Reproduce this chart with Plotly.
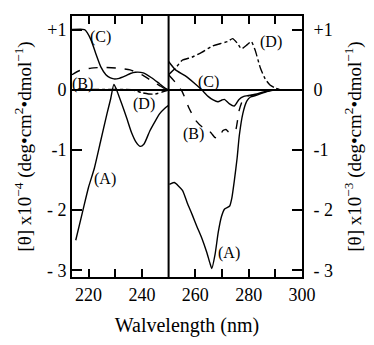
import plotly.graph_objects as go

# ---- data (left panel: [θ] x10^-4 ; right panel: [θ] x10^-3) ----
wl_A_left = [215.2, 217.8, 220.0, 222.2, 224.5, 226.9, 228.3, 229.5, 230.5, 231.5, 232.5,
             234.3, 236.1, 237.8, 239.4, 240.8, 243.0, 245.0, 246.6, 248.5, 250.0]
A_left = [-2.50, -2.02, -1.62, -1.30, -0.86, -0.40, -0.15, 0.09, 0.00, -0.12, -0.24,
          -0.47, -0.71, -0.87, -0.94, -0.90, -0.68, -0.52, -0.40, -0.31, -0.26]

wl_B_left = [213.8, 216.7, 221.0, 225.9, 230.7, 235.6, 239.9, 243.6, 246.6, 249.0, 250.0]
B_left = [0.25, 0.32, 0.36, 0.37, 0.36, 0.33, 0.25, 0.15, 0.07, 0.01, 0.0]

wl_C_left = [213.8, 218.5, 219.5, 221.0, 222.8, 224.6, 226.5, 228.0, 229.5, 231.5, 233.8,
             235.7, 237.5, 240.5, 243.6, 246.6, 249.0, 250.0]
C_left = [1.0, 1.0, 0.95, 0.82, 0.59, 0.38, 0.25, 0.20, 0.18, 0.19, 0.23,
          0.27, 0.29, 0.28, 0.20, 0.10, 0.02, 0.0]

wl_D_left = [213.8, 236.0, 238.0, 240.0, 242.5, 245.0, 247.5, 250.0]
D_left = [0.0, 0.0, -0.02, -0.05, -0.07, -0.07, -0.04, 0.0]

wl_A_right = [250.3, 252.1, 255.2, 257.0, 258.8, 260.6, 262.5, 264.3, 265.5, 266.2, 267.4,
              268.6, 269.8, 271.0, 272.9, 273.7, 274.7, 275.7, 276.5, 277.8, 279.3, 280.7,
              283.1, 286.8, 290.0, 300.0]
A_right = [-1.57, -1.54, -1.67, -1.88, -2.07, -2.27, -2.47, -2.70, -2.88, -2.97, -2.74,
           -2.37, -2.11, -1.98, -1.93, -1.80, -1.49, -1.13, -0.76, -0.40, -0.19, -0.12,
           -0.09, -0.03, 0.0, 0.0]

wl_B_right = [250.0, 252.6, 255.1, 257.5, 260.0, 262.4, 264.8, 266.0, 267.3, 268.5, 269.5,
              270.3, 271.5, 272.5, 273.4, 274.3, 275.2, 275.8, 276.4, 277.6, 279.5, 283.1,
              288.0, 290.0, 300.0]
B_right = [0.25, 0.12, -0.03, -0.29, -0.50, -0.61, -0.66, -0.72, -0.79, -0.81, -0.75,
           -0.68, -0.66, -0.70, -0.71, -0.69, -0.66, -0.52, -0.35, -0.19, -0.11, -0.08,
           -0.01, 0.0, 0.0]

wl_C_right = [250.0, 252.6, 256.3, 259.9, 262.4, 264.8, 266.7, 268.5, 270.0, 270.9, 272.7,
              274.6, 275.5, 276.4, 278.2, 283.1, 286.8, 290.0, 300.0]
C_right = [0.47, 0.33, 0.23, 0.10, 0.0, -0.11, -0.17, -0.20, -0.17, -0.16, -0.23,
           -0.27, -0.22, -0.16, -0.11, -0.07, -0.02, 0.0, 0.0]

wl_D_right = [250.0, 252.6, 255.1, 258.7, 262.4, 266.1, 269.7, 272.1, 274.0, 275.8, 277.3,
              279.5, 281.0, 282.5, 284.4, 286.2, 288.0, 290.0, 292.0, 300.0]
D_right = [0.25, 0.36, 0.49, 0.54, 0.62, 0.72, 0.77, 0.80, 0.85, 0.77, 0.68,
           0.75, 0.80, 0.65, 0.36, 0.18, 0.08, 0.03, 0.0, 0.0]

x_tickvals = [220, 230, 240, 260, 270, 280, 290, 300]
x_ticktext = ["220", " ", "240", "260", " ", "280", " ", "300"]
y_tickvals = [1, 0, -1, -2, -3]
y_ticktext = ["+1", "0", "-1", "- 2", "- 3"]

labels_left = [("(C)", 224.4, 0.87), ("(B)", 217.8, 0.10), ("(D)", 240.9, -0.24), ("(A)", 226.2, -1.49)]
labels_right = [("(C)", 265.1, 0.13), ("(B)", 259.2, -0.73), ("(D)", 288.5, 0.79), ("(A)", 272.7, -2.71)]

X_RANGE = [213.8, 300.0]
Y_RANGE = [-3.11, 1.225]
SERIF = "Liberation Serif"

fig = go.Figure()

lw = 1.4
styles = {"A": "solid", "B": "dash", "C": "solid", "D": "dashdot"}
left = {"A": (wl_A_left, A_left), "B": (wl_B_left, B_left), "C": (wl_C_left, C_left), "D": (wl_D_left, D_left)}
right = {"A": (wl_A_right, A_right), "B": (wl_B_right, B_right), "C": (wl_C_right, C_right), "D": (wl_D_right, D_right)}

for k, (xs, ys) in left.items():
    fig.add_trace(go.Scatter(x=xs, y=ys, mode="lines", yaxis="y", showlegend=False, hoverinfo="skip",
                             line=dict(color="black", width=lw, dash=styles[k], shape="spline", smoothing=0.6)))
for k, (xs, ys) in right.items():
    fig.add_trace(go.Scatter(x=xs, y=ys, mode="lines", yaxis="y2", showlegend=False, hoverinfo="skip",
                             line=dict(color="black", width=lw, dash=styles[k], shape="spline", smoothing=0.5)))

for t, x, y in labels_left:
    fig.add_annotation(x=x, y=y, xref="x", yref="y", text=t, showarrow=False,
                       font=dict(family=SERIF, size=16, color="black"))
for t, x, y in labels_right:
    fig.add_annotation(x=x, y=y, xref="x", yref="y2", text=t, showarrow=False,
                       font=dict(family=SERIF, size=16, color="black"))

# divider between the two panels
fig.add_shape(type="line", xref="x", yref="paper", x0=250, x1=250, y0=0, y1=1,
              line=dict(color="black", width=2))

fig.update_layout(
    width=374, height=345,
    margin=dict(l=72, r=68, t=16, b=51),
    paper_bgcolor="white", plot_bgcolor="white",
    font=dict(family=SERIF, color="black", size=18),
    xaxis=dict(range=X_RANGE, tickvals=x_tickvals, ticktext=x_ticktext, automargin=True,
               ticks="inside", ticklen=8, tickwidth=1.5, tickcolor="black",
               showline=True, linewidth=2, linecolor="black", mirror="ticks",
               showgrid=False, zeroline=False,
               tickfont=dict(family=SERIF, size=18),
               title=dict(text="Walvelength (nm)", font=dict(family=SERIF, size=20), standoff=14)),
    yaxis=dict(range=Y_RANGE, tickvals=y_tickvals, ticktext=y_ticktext, automargin=True,
               ticks="inside", ticklen=10, tickwidth=1.5, tickcolor="black", ticklabelstandoff=0,
               showline=True, linewidth=2, linecolor="black",
               showgrid=False, zeroline=True, zerolinecolor="black", zerolinewidth=2,
               tickfont=dict(family=SERIF, size=18),
               title=dict(text="[θ] x10<sup>−4</sup> (deg•cm<sup>2</sup>•dmol<sup>−1</sup>)",
                          font=dict(family=SERIF, size=19), standoff=10)),
    yaxis2=dict(range=Y_RANGE, tickvals=y_tickvals, ticktext=y_ticktext, overlaying="y", side="right",
                automargin=True,
                ticks="inside", ticklen=10, tickwidth=1.5, tickcolor="black", ticklabelstandoff=6,
                showline=True, linewidth=2, linecolor="black",
                showgrid=False, zeroline=False,
                tickfont=dict(family=SERIF, size=18),
                title=dict(text="[θ] x10<sup>−3</sup> (deg•cm<sup>2</sup>•dmol<sup>−1</sup>)",
                           font=dict(family=SERIF, size=19), standoff=16)),
)

# remove the browser's default 8px body margin so the figure sits at the window origin
fig.write_html("out.html", config={"displayModeBar": False},
               post_script="document.body.style.margin='0';")
